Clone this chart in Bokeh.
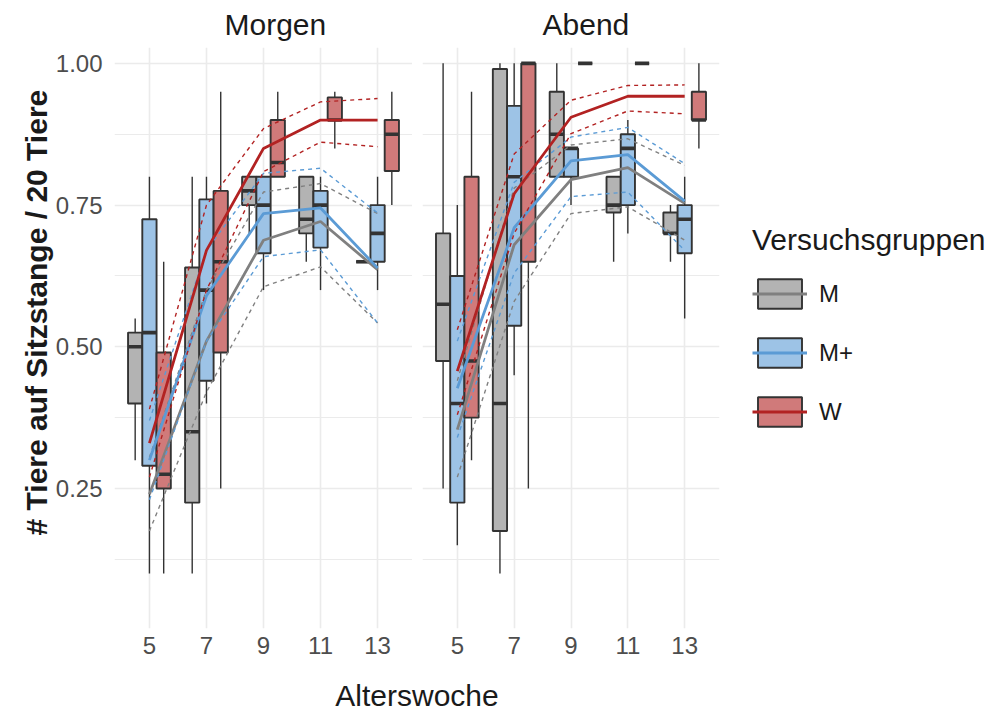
from bokeh.plotting import figure
from bokeh.models import (ColumnDataSource, Range1d, FixedTicker, Legend, LegendItem,
                          Title, Label)
from bokeh.layouts import column, row
from bokeh.transform import dodge
from bokeh.embed import file_html
from bokeh.resources import INLINE

# ---------------- data ----------------
weeks = [5, 7, 9, 11, 13]
x_tick_labels = ["5", "7", "9", "11", "13"]
y_ticks = [0.25, 0.50, 0.75, 1.00]
y_tick_labels = ["0.25", "0.50", "0.75", "1.00"]
y_minor_ticks = [0.125, 0.375, 0.625, 0.875]
groups = ["M", "M+", "W"]
panel_titles = ["Morgen", "Abend"]

# Morgen – boxplot statistics (whisker low, Q1, median, Q3, whisker high)
mo_M_lo = [0.30, 0.10, 0.70, 0.65, 0.65]
mo_M_q1 = [0.40, 0.225, 0.75, 0.70, 0.65]
mo_M_med = [0.50, 0.35, 0.775, 0.725, 0.65]
mo_M_q3 = [0.525, 0.64, 0.80, 0.80, 0.65]
mo_M_hi = [0.55, 0.80, 0.80, 0.80, 0.65]

mo_Mp_lo = [0.10, 0.40, 0.60, 0.60, 0.60]
mo_Mp_q1 = [0.29, 0.44, 0.665, 0.675, 0.65]
mo_Mp_med = [0.525, 0.60, 0.75, 0.75, 0.70]
mo_Mp_q3 = [0.725, 0.76, 0.80, 0.775, 0.75]
mo_Mp_hi = [0.80, 0.80, 0.80, 0.80, 0.80]

mo_W_lo = [0.10, 0.25, 0.80, 0.85, 0.75]
mo_W_q1 = [0.25, 0.49, 0.80, 0.90, 0.81]
mo_W_med = [0.275, 0.65, 0.825, 0.90, 0.875]
mo_W_q3 = [0.49, 0.775, 0.90, 0.94, 0.90]
mo_W_hi = [0.65, 0.95, 0.95, 0.95, 0.95]

# Abend – boxplot statistics
ab_M_lo = [0.25, 0.10, 0.80, 0.65, 0.65]
ab_M_q1 = [0.475, 0.175, 0.80, 0.737, 0.70]
ab_M_med = [0.575, 0.40, 0.875, 0.75, 0.70]
ab_M_q3 = [0.70, 0.99, 0.95, 0.80, 0.737]
ab_M_hi = [1.00, 1.00, 1.00, 0.80, 0.75]

ab_Mp_lo = [0.15, 0.45, 0.75, 0.70, 0.55]
ab_Mp_q1 = [0.225, 0.537, 0.80, 0.75, 0.665]
ab_Mp_med = [0.40, 0.80, 0.85, 0.85, 0.725]
ab_Mp_q3 = [0.625, 0.925, 0.85, 0.875, 0.75]
ab_Mp_hi = [0.75, 1.00, 0.85, 0.90, 0.80]

ab_W_lo = [0.30, 0.25, 1.00, 1.00, 0.85]
ab_W_q1 = [0.375, 0.65, 1.00, 1.00, 0.90]
ab_W_med = [0.475, 1.00, 1.00, 1.00, 0.90]
ab_W_q3 = [0.80, 1.00, 1.00, 1.00, 0.95]
ab_W_hi = [0.95, 1.00, 1.00, 1.00, 1.00]

# Mean lines with lower / upper bands (dashed)
mo_M_mean = [0.24, 0.51, 0.688, 0.721, 0.636]
mo_M_lower = [0.175, 0.42, 0.606, 0.641, 0.542]
mo_M_upper = [0.305, 0.60, 0.773, 0.788, 0.735]
mo_Mp_mean = [0.30, 0.59, 0.735, 0.745, 0.639]
mo_Mp_lower = [0.23, 0.51, 0.659, 0.671, 0.542]
mo_Mp_upper = [0.37, 0.67, 0.806, 0.815, 0.736]
mo_W_mean = [0.33, 0.67, 0.85, 0.90, 0.90]
mo_W_lower = [0.27, 0.60, 0.809, 0.861, 0.853]
mo_W_upper = [0.39, 0.75, 0.885, 0.932, 0.938]

ab_M_mean = [0.354, 0.68, 0.795, 0.816, 0.753]
ab_M_lower = [0.27, 0.58, 0.735, 0.747, 0.688]
ab_M_upper = [0.44, 0.78, 0.856, 0.867, 0.82]
ab_Mp_mean = [0.427, 0.71, 0.828, 0.839, 0.757]
ab_Mp_lower = [0.34, 0.63, 0.765, 0.773, 0.67]
ab_Mp_upper = [0.51, 0.79, 0.87, 0.887, 0.823]
ab_W_mean = [0.457, 0.77, 0.905, 0.942, 0.942]
ab_W_lower = [0.38, 0.70, 0.876, 0.916, 0.911]
ab_W_upper = [0.53, 0.84, 0.935, 0.961, 0.962]

# ---------------- styling ----------------
FONT = "Liberation Sans"
line_colors = {"M": "#808080", "M+": "#5b9bd5", "W": "#b22222"}
fill_colors = {"M": "#b3b3b3", "M+": "#9dc3e6", "W": "#d07a7a"}
offsets = {"M": -0.5, "M+": 0.0, "W": 0.5}
BOX_W = 0.5
EDGE = "#333333"

panel_data = {
    "Morgen": {
        "M": (mo_M_lo, mo_M_q1, mo_M_med, mo_M_q3, mo_M_hi, mo_M_mean, mo_M_lower, mo_M_upper),
        "M+": (mo_Mp_lo, mo_Mp_q1, mo_Mp_med, mo_Mp_q3, mo_Mp_hi, mo_Mp_mean, mo_Mp_lower, mo_Mp_upper),
        "W": (mo_W_lo, mo_W_q1, mo_W_med, mo_W_q3, mo_W_hi, mo_W_mean, mo_W_lower, mo_W_upper),
    },
    "Abend": {
        "M": (ab_M_lo, ab_M_q1, ab_M_med, ab_M_q3, ab_M_hi, ab_M_mean, ab_M_lower, ab_M_upper),
        "M+": (ab_Mp_lo, ab_Mp_q1, ab_Mp_med, ab_Mp_q3, ab_Mp_hi, ab_Mp_mean, ab_Mp_lower, ab_Mp_upper),
        "W": (ab_W_lo, ab_W_q1, ab_W_med, ab_W_q3, ab_W_hi, ab_W_mean, ab_W_lower, ab_W_upper),
    },
}

X_RANGE = (3.775, 14.225)
Y_RANGE = (0.003, 1.028)


def make_panel(name, first):
    p = figure(frame_width=298 if first else 297, frame_height=581,
               x_range=Range1d(*X_RANGE), y_range=Range1d(*Y_RANGE),
               output_backend="svg", toolbar_location=None,
               min_border_left=114 if first else 10, min_border_right=0,
               min_border_top=47, min_border_bottom=40)
    p.outline_line_color = None
    p.background_fill_color = "white"
    p.add_layout(Title(text=name, align="left", offset=110 if first else 120,
                       vertical_align="top",
                       text_font=FONT, text_font_size="30px",
                       text_font_style="normal", text_color="#1a1a1a", standoff=10), "above")

    xt = FixedTicker(ticks=weeks, minor_ticks=[])
    yt = FixedTicker(ticks=y_ticks, minor_ticks=y_minor_ticks)
    p.xaxis.ticker = xt
    p.yaxis.ticker = yt
    p.xgrid.ticker = xt
    p.ygrid.ticker = yt
    p.xaxis.major_label_overrides = {w: l for w, l in zip(weeks, x_tick_labels)}
    p.yaxis.major_label_overrides = {t: l for t, l in zip(y_ticks, y_tick_labels)}
    for ax in (p.xaxis, p.yaxis):
        ax.axis_line_color = None
        ax.major_tick_line_color = None
        ax.minor_tick_line_color = None
        ax.major_tick_out = 0
        ax.major_tick_in = 0
        ax.major_label_text_font = FONT
        ax.major_label_text_font_size = "24px"
        ax.major_label_text_color = "#4d4d4d"
    p.xaxis.major_label_standoff = 8
    p.yaxis.major_label_standoff = 8
    if not first:
        p.yaxis.visible = False

    p.xgrid.grid_line_color = "#ebebeb"
    p.xgrid.grid_line_width = 1.6
    p.ygrid.grid_line_color = "#ebebeb"
    p.ygrid.grid_line_width = 1.6
    p.ygrid.minor_grid_line_color = "#ebebeb"
    p.ygrid.minor_grid_line_width = 1.0

    box_r, line_r = {}, {}
    sources = {}
    for g in groups:
        lo, q1, med, q3, hi, mean, lower, upper = panel_data[name][g]
        sources[g] = ColumnDataSource(dict(week=weeks, lo=lo, q1=q1, med=med, q3=q3, hi=hi,
                                           mean=mean, lower=lower, upper=upper))
    for g in groups:
        src = sources[g]
        off = offsets[g]
        p.segment(x0=dodge("week", off), y0="lo", x1=dodge("week", off), y1="q1",
                  source=src, line_color=EDGE, line_width=1.4)
        p.segment(x0=dodge("week", off), y0="q3", x1=dodge("week", off), y1="hi",
                  source=src, line_color=EDGE, line_width=1.4)
        box_r[g] = p.vbar(x=dodge("week", off), width=BOX_W, bottom="q1", top="q3", source=src,
                          fill_color=fill_colors[g], line_color=EDGE, line_width=1.9)
        p.segment(x0=dodge("week", off - BOX_W / 2), y0="med", x1=dodge("week", off + BOX_W / 2),
                  y1="med", source=src, line_color=EDGE, line_width=3.6)
    for g in groups:
        src = sources[g]
        p.line("week", "lower", source=src, line_color=line_colors[g], line_width=1.4,
               line_dash="4 4")
        p.line("week", "upper", source=src, line_color=line_colors[g], line_width=1.4,
               line_dash="4 4")
        line_r[g] = p.line("week", "mean", source=src, line_color=line_colors[g], line_width=2.8)
    return p, box_r, line_r


p1, _, _ = make_panel("Morgen", True)
p2, box_r, line_r = make_panel("Abend", False)

p1.add_layout(Title(text="# Tiere auf Sitzstange / 20 Tiere", align="left", text_font=FONT,
                    text_font_size="30px", text_font_style="bold", text_color="#1a1a1a",
                    offset=93, standoff=0), "left")

legend = Legend(items=[LegendItem(label=g, renderers=[box_r[g], line_r[g]]) for g in groups],
                title="Versuchsgruppen", title_text_font=FONT, title_text_font_size="30px",
                title_text_font_style="normal",
                title_text_color="#1a1a1a", title_standoff=18,
                label_text_font=FONT, label_text_font_size="24px", label_text_color="#1a1a1a",
                glyph_width=55, glyph_height=37, spacing=22, label_standoff=12,
                padding=6, margin=24, border_line_color=None, background_fill_alpha=0,
                location=(33, 198))
p2.add_layout(legend, "right")

p3 = figure(width=993, height=44, x_range=Range1d(0, 993), y_range=Range1d(0, 44),
            output_backend="svg", toolbar_location=None, x_axis_type=None, y_axis_type=None,
            min_border=0)
p3.outline_line_color = None
p3.xgrid.visible = False
p3.ygrid.visible = False
p3.add_layout(Label(x=416.5, y=17, text="Alterswoche", text_font=FONT, text_font_size="30px",
                    text_color="#1a1a1a", text_align="center", text_baseline="middle"))

layout = column(row(p1, p2), p3)
open("out.html", "w").write(file_html(layout, INLINE))
